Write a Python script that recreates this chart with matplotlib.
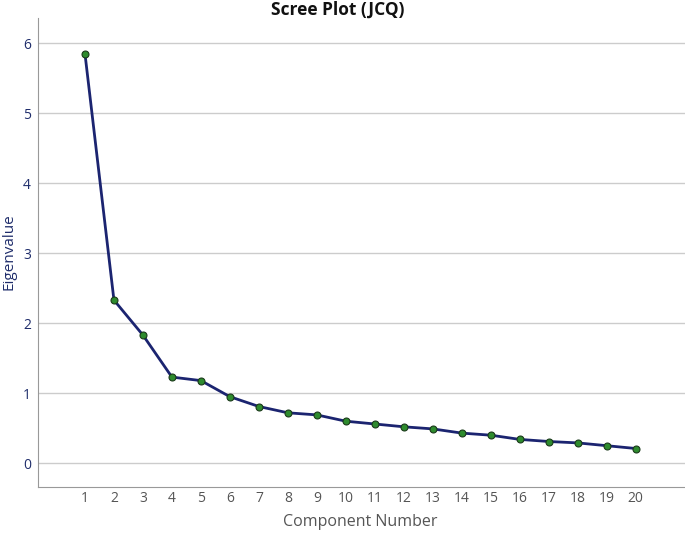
import matplotlib
matplotlib.use("Agg")
import matplotlib.pyplot as plt

components = list(range(1, 21))
eigenvalues = [5.85, 2.33, 1.83, 1.23, 1.18, 0.95, 0.81, 0.72, 0.69, 0.60,
               0.56, 0.52, 0.49, 0.43, 0.40, 0.34, 0.31, 0.29, 0.25, 0.21]
y_ticks = [0, 1, 2, 3, 4, 5, 6]

plt.rcParams['font.family'] = ['Open Sans', 'DejaVu Sans']

fig = plt.figure(figsize=(6.85, 5.33), dpi=100)
ax = fig.add_axes([38 / 685, 1 - 487 / 533, 647 / 685, (487 - 18) / 533])

ax.plot(components, eigenvalues, color="#1b2470", lw=2, zorder=3,
        marker="o", ms=5, mfc="#2e8b2e", mec="#1a3a1a", mew=0.8)

ax.set_xlim(-0.62, 21.7)
ax.set_ylim(-0.34, 6.36)
ax.set_xticks(components)
ax.set_yticks(y_ticks)
ax.tick_params(axis="both", length=0)
ax.tick_params(axis="x", colors="#555555", labelsize=10, pad=3)
ax.tick_params(axis="y", colors="#1f2d6b", labelsize=10, pad=5)
ax.grid(axis="y", color="#cccccc", lw=1)
ax.set_axisbelow(True)
for s in ("top", "right"):
    ax.spines[s].set_visible(False)
for s in ("left", "bottom"):
    ax.spines[s].set_color("#999999")

fig.text(9 / 685, 1 - 252 / 533, "Eigenvalue", rotation=90, ha="center",
         va="center", color="#1f2d6b", fontsize=11)
fig.text(360 / 685, 1 - 522 / 533, "Component Number", ha="center",
         va="center", color="#555555", fontsize=11.5)
fig.text(338 / 685, 1 - 10 / 533, "Scree Plot (JCQ)", ha="center", va="center",
         fontsize=12.5, fontweight="bold", color="#111111")

fig.savefig("out.png", dpi=100)
